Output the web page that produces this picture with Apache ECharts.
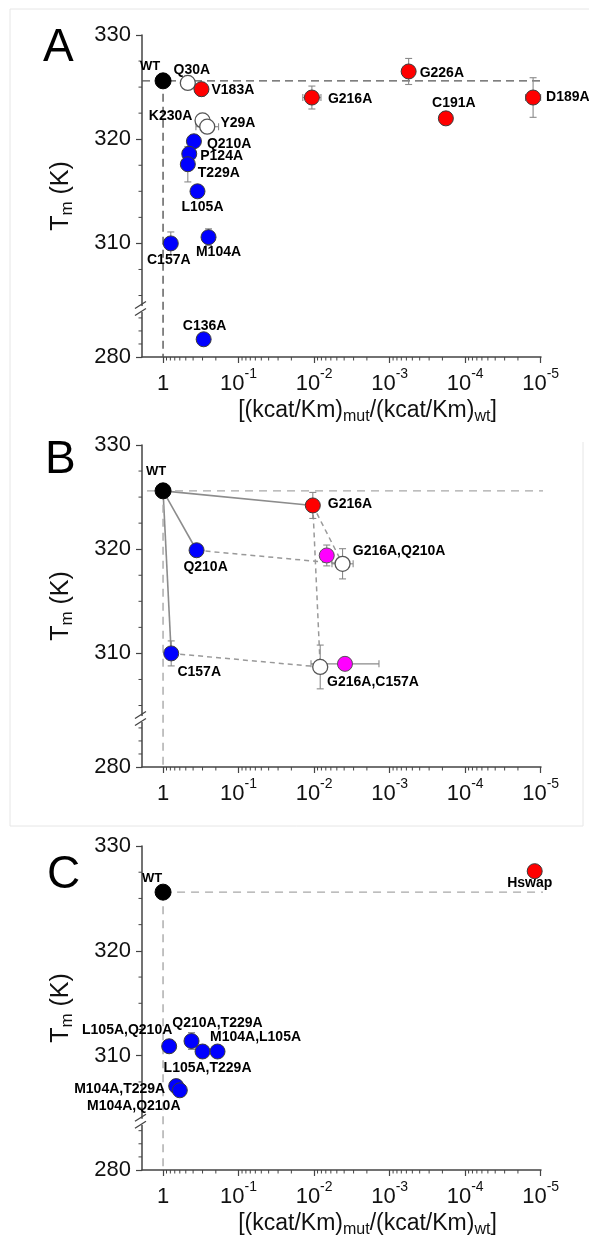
<!DOCTYPE html>
<html><head><meta charset="utf-8">
<script src="https://cdn.jsdelivr.net/npm/echarts@6.0.0/dist/echarts.min.js"></script>
<style>html,body{margin:0;padding:0;background:#fff}#c{width:589px;height:1239px}</style>
</head><body><div id="c"></div>
<script>
// ---------------- data ----------------
const xTickValues = [1, 1e-1, 1e-2, 1e-3, 1e-4, 1e-5];
const xMinorMultipliers = [9, 8, 7, 6, 5, 4, 3, 2];
const yTickValues = [280, 310, 320, 330];
const yMinorTickValues = [281.25, 282.5, 283.75, 305, 307.5, 312.5, 315, 317.5, 322.5, 325, 327.5];

// Panel A: single mutants
const aNames = ['WT','Q30A','V183A','K230A','Y29A','Q210A','P124A','T229A','L105A','C157A','M104A','C136A','G216A','G226A','C191A','D189A'];
const aRatio = [1, 0.47, 0.31, 0.30, 0.26, 0.39, 0.45, 0.47, 0.35, 0.79, 0.25, 0.29, 0.0107, 0.00056, 0.00018, 0.0000126];
const aTm    = [325.6, 325.4, 324.8, 321.8, 321.2, 319.8, 318.6, 317.6, 315.0, 310.0, 310.6, 281.7, 324.0, 326.5, 322.0, 324.0];
const aTmErr = [0.3, 0, 0.65, 0, 0.3, 0.5, 0.6, 1.7, 0, 1.1, 0.8, 0, 1.1, 1.25, 0.4, 1.9];
const aRatioErrDec = [0.05, 0, 0.05, 0, 0.15, 0, 0.08, 0, 0, 0, 0, 0, 0.12, 0.05, 0.08, 0.1];
const aKind  = ['wt','open','red','open','open','blue','blue','blue','blue','blue','blue','blue','red','red','red','red'];

// Panel B: double-mutant cycles (measured + additive prediction)
const bNames = ['WT','Q210A','G216A','C157A','G216A,Q210A','G216A,C157A','G216A+Q210A pred','G216A+C157A pred'];
const bRatio = [1, 0.36, 0.0104, 0.78, 0.0068, 0.0039, 0.0042, 0.0083];
const bTm    = [325.6, 319.9, 324.2, 310.0, 319.4, 309.0, 318.6, 308.7];
const bTmErr = [0.2, 0.4, 1.25, 1.2, 1.0, 0.3, 1.45, 2.1];
const bRatioErrDec = [0.05, 0, 0.05, 0, 0.08, 0.45, 0.14, 0.06];
const bKind  = ['wt','blue','red','blue','magenta','magenta','open','open'];
const bSolidLinks  = [['WT','G216A'],['WT','Q210A'],['WT','C157A']];
const bDashedLinks = [['Q210A','G216A+Q210A pred'],['G216A','G216A+Q210A pred'],['G216A','G216A+C157A pred'],['C157A','G216A+C157A pred']];

// Panel C: other double mutants and Hswap
const cNames = ['WT','Hswap','L105A,Q210A','Q210A,T229A','L105A,T229A','M104A,L105A','M104A,T229A','M104A,Q210A'];
const cRatio = [1, 0.000012, 0.83, 0.42, 0.30, 0.19, 0.67, 0.60];
const cTm    = [325.6, 327.6, 310.9, 311.4, 310.4, 310.4, 307.1, 306.7];
const cTmErr = [0.2, 0.4, 0.3, 0.8, 0.6, 0.3, 0.6, 0.3];
const cRatioErrDec = [0.03, 0.05, 0.08, 0, 0.05, 0, 0.05, 0];
const cKind  = ['wt','red','blue','blue','blue','blue','blue','blue'];

// ---------------- styles / layout ----------------
const FONT = 'Liberation Sans';
const xMax = 1.9, xMin = 9.9e-6, yMin = 280, yMax = 330;
const kindStyle = {
  wt:      {color:'#000000', borderColor:'#000000', borderWidth:1, opacity:1},
  red:     {color:'#ff0000', borderColor:'#3a3a3a', borderWidth:1, opacity:1},
  blue:    {color:'#0000ff', borderColor:'#3a3a3a', borderWidth:1, opacity:1},
  open:    {color:'#ffffff', borderColor:'#555555', borderWidth:1.3, opacity:1},
  magenta: {color:'#ff00ff', borderColor:'#555555', borderWidth:1, opacity:1}
};
const labelPlacement = {
  A: {'WT':['top',-13,6],'Q30A':['top',4,7],'V183A':['right',-3,1],'K230A':['left',3,-4],'Y29A':['right',0,-4],
      'Q210A':['right',0,3],'P124A':['right',-2,2],'T229A':['right',-3,9],'L105A':['bottom',5,-4],'C157A':['bottom',-2,-3],
      'M104A':['bottom',10,-5],'C136A':['top',1,7],'G216A':['right',3,2],'G226A':['right',-2,2],'C191A':['top',8,5],'D189A':['right',0,0]},
  B: {'WT':['top',-7,1],'Q210A':['bottom',9,-3],'G216A':['right',2,-1],'G216A,Q210A':['right',13,-4],
      'C157A':['bottom',28,-1],'G216A,C157A':['bottom',28,-2]},
  C: {'WT':['top',-11,6],'Hswap':['bottom',-5,-8],'L105A,Q210A':['top',-42,4],'Q210A,T229A':['top',26,2],
      'M104A,L105A':['top',38,6],'L105A,T229A':['bottom',5,-3],'M104A,T229A':['left',2,3],'M104A,Q210A':['bottom',-46,-4]}
};
const BRK = {start:284.5, end:303.8, gap:0.2};
const panels = [
  {key:'A', names:aNames, ratio:aRatio, tm:aTm, tmErr:aTmErr, rErr:aRatioErrDec, kind:aKind,
   grid:{left:142, top:35, width:399, height:322}, refColor:'#555555', refDash:[8,5],
   refStart:xMax, refEnd:8e-6, xName:true, letterTop:25, letterLeft:43},
  {key:'B', names:bNames, ratio:bRatio, tm:bTm, tmErr:bTmErr, rErr:bRatioErrDec, kind:bKind,
   grid:{left:142, top:445, width:399, height:322}, refColor:'#a8a8a8', refDash:[8,6],
   refStart:1.63, refEnd:6.3e-6, xName:false, letterTop:437, letterLeft:45},
  {key:'C', names:cNames, ratio:cRatio, tm:cTm, tmErr:cTmErr, rErr:cRatioErrDec, kind:cKind,
   grid:{left:142, top:846, width:399, height:324}, refColor:'#a8a8a8', refDash:[8,6],
   refStart:1, refEnd:6.3e-6, xName:true, letterTop:852, letterLeft:47}
];

// ---------------- build option ----------------
const grid = [], xAxis = [], yAxis = [], series = [];
const axisColor = '#444444';
function xLabelFmt(v){
  const e = Math.round(Math.log10(v));
  return e === 0 ? '{b|1}' : '{b|10}{s|' + e + '}';
}
const xMinorTicks = [];
xTickValues.slice(0, -1).forEach(d => xMinorMultipliers.forEach(m => xMinorTicks.push(d * m / 10)));

panels.forEach((p, k) => {
  grid.push(Object.assign({containLabel:false}, p.grid));
  const xi = k, yi = k;
  xAxis.push({
    gridIndex:k, type:'log', logBase:10, inverse:true, min:xMin, max:xMax, position:'bottom',
    axisLine:{show:true, lineStyle:{color:axisColor, width:1.5}},
    axisTick:{show:true, customValues:xTickValues, length:6, lineStyle:{color:axisColor, width:1.2}},
    axisLabel:{show:true, customValues:xTickValues, margin:10, formatter:xLabelFmt, color:'#111',
      rich:{b:{fontSize:22, fontFamily:FONT, color:'#111', lineHeight:28, verticalAlign:'bottom'},
            s:{fontSize:14, fontFamily:FONT, color:'#111', lineHeight:28, verticalAlign:'top'}}},
    splitLine:{show:false}, minorTick:{show:false},
    name: p.xName ? '[(kcat/Km){sub|mut}/(kcat/Km){sub|wt}]' : '',
    nameLocation:'middle', nameGap:40,
    nameTextStyle:{fontSize:23, fontFamily:FONT, color:'#111', padding:[0,0,0,52], lineHeight:28,
      rich:{sub:{fontSize:16, fontFamily:FONT, color:'#111', verticalAlign:'bottom', lineHeight:28}}}
  });
  yAxis.push({gridIndex:k, type:'value', min:yMin, max:yMax, position:'left',
    breaks:[{start:BRK.start, end:BRK.end, gap:BRK.gap}], breakArea:{show:false}, splitLine:{show:false},
    axisLine:{show:true, lineStyle:{color:axisColor, width:1.5}},
    axisTick:{show:true, customValues:yTickValues, length:6, lineStyle:{color:axisColor, width:1.2}},
    axisLabel:{show:true, customValues:yTickValues, fontSize:22, fontFamily:FONT, color:'#111', margin:11},
    name:'T{sub|m} (K)', nameLocation:'middle', nameGap:66, nameRotate:90,
    nameTextStyle:{fontSize:25, fontFamily:FONT, color:'#111', lineHeight:30,
      rich:{sub:{fontSize:17, fontFamily:FONT, color:'#111', verticalAlign:'bottom', lineHeight:30}}}
  });

  // minor ticks, placed through the axes' own scales
  const tickStyle = {stroke:axisColor, lineWidth:1};
  series.push({type:'custom', xAxisIndex:xi, yAxisIndex:yi, clip:false, silent:true, z:1,
    data:xMinorTicks.map(v => [v, yMin]),
    renderItem:function(params, api){
      const c = api.coord([api.value(0), api.value(1)]);
      return {type:'line', shape:{x1:c[0], y1:c[1], x2:c[0], y2:c[1]+3.5}, style:tickStyle};
    }});
  series.push({type:'custom', xAxisIndex:xi, yAxisIndex:yi, clip:false, silent:true, z:1,
    data:yMinorTickValues.map(v => [xMax, v]),
    renderItem:function(params, api){
      const c = api.coord([api.value(0), api.value(1)]);
      return {type:'line', shape:{x1:c[0]-3.5, y1:c[1], x2:c[0], y2:c[1]}, style:tickStyle};
    }});

  const wtIdx = p.names.indexOf('WT');
  const wtTm = p.tm[wtIdx], wtRatio = p.ratio[wtIdx];
  const refStyle = {color:p.refColor, width:1.4, type:p.refDash};
  series.push({type:'line', xAxisIndex:xi, yAxisIndex:yi, clip:false, symbol:'none', silent:true, z:1,
    lineStyle:refStyle, data:[[p.refStart, wtTm],[p.refEnd, wtTm]]});
  series.push({type:'line', xAxisIndex:xi, yAxisIndex:yi, clip:false, symbol:'none', silent:true, z:1,
    lineStyle:refStyle, data:[[wtRatio, wtTm],[wtRatio, yMin]]});

  if (p.key === 'B') {
    const pt = n => { const i = p.names.indexOf(n); return [p.ratio[i], p.tm[i]]; };
    series.push({type:'lines', coordinateSystem:'cartesian2d', xAxisIndex:xi, yAxisIndex:yi, silent:true, z:1,
      lineStyle:{color:'#8c8c8c', width:1.6, type:'solid', opacity:1},
      data:bSolidLinks.map(l => ({coords:[pt(l[0]), pt(l[1])]}))});
    series.push({type:'lines', coordinateSystem:'cartesian2d', xAxisIndex:xi, yAxisIndex:yi, silent:true, z:1,
      lineStyle:{color:'#999999', width:1.5, type:[5,4], opacity:1},
      data:bDashedLinks.map(l => ({coords:[pt(l[0]), pt(l[1])]}))});
  }

  // error bars
  series.push({type:'custom', xAxisIndex:xi, yAxisIndex:yi, clip:false, silent:true, z:2,
    encode:{x:0, y:1},
    data:p.ratio.map((r,i) => [r, p.tm[i], p.tmErr[i], p.rErr[i]]),
    renderItem:function(params, api){
      const x = api.value(0), y = api.value(1), ey = api.value(2), ex = api.value(3);
      const st = {stroke:'#8a8a8a', lineWidth:1.1};
      const ch = [], cap = 3.5;
      if (ey > 0) {
        const a = api.coord([x, y+ey]), b = api.coord([x, y-ey]);
        ch.push({type:'line', shape:{x1:a[0],y1:a[1],x2:b[0],y2:b[1]}, style:st});
        ch.push({type:'line', shape:{x1:a[0]-cap,y1:a[1],x2:a[0]+cap,y2:a[1]}, style:st});
        ch.push({type:'line', shape:{x1:b[0]-cap,y1:b[1],x2:b[0]+cap,y2:b[1]}, style:st});
      }
      if (ex > 0) {
        const f = Math.pow(10, ex);
        const a = api.coord([x*f, y]), b = api.coord([x/f, y]);
        ch.push({type:'line', shape:{x1:a[0],y1:a[1],x2:b[0],y2:b[1]}, style:st});
        ch.push({type:'line', shape:{x1:a[0],y1:a[1]-cap,x2:a[0],y2:a[1]+cap}, style:st});
        ch.push({type:'line', shape:{x1:b[0],y1:b[1]-cap,x2:b[0],y2:b[1]+cap}, style:st});
      }
      return {type:'group', children:ch};
    }});

  // points
  const lp = labelPlacement[p.key];
  series.push({type:'scatter', xAxisIndex:xi, yAxisIndex:yi, z:3, clip:false,
    data:p.names.map((n,i) => {
      const pl = lp[n];
      return {name:n, value:[p.ratio[i], p.tm[i]],
        symbolSize: p.kind[i] === 'wt' ? 16 : 15,
        itemStyle: kindStyle[p.kind[i]],
        label: pl ? {show:true, position:pl[0], offset:[pl[1], pl[2]], distance:5, formatter:n,
          fontSize: n === 'WT' ? 13 : 14, fontWeight:'bold', fontFamily:FONT, color:'#000'} : {show:false}};
    })});
});

const graphic = [
  {type:'line', shape:{x1:10,y1:9,x2:589,y2:9}, style:{stroke:'#e6e6e6', lineWidth:1}, silent:true},
  {type:'line', shape:{x1:10,y1:9,x2:10,y2:826}, style:{stroke:'#e6e6e6', lineWidth:1}, silent:true},
  {type:'line', shape:{x1:583,y1:442,x2:583,y2:826}, style:{stroke:'#e6e6e6', lineWidth:1}, silent:true},
  {type:'line', shape:{x1:10,y1:826,x2:583,y2:826}, style:{stroke:'#e6e6e6', lineWidth:1}, silent:true}
];
panels.forEach(p => {
  graphic.push({type:'text', left:p.letterLeft, top:p.letterTop, silent:true,
    style:{text:p.key, fontSize:46, fontFamily:FONT, fill:'#000'}});
});

const chart = echarts.init(document.getElementById('c'), null, {renderer:'canvas'});
chart.setOption({animation:false, backgroundColor:'#ffffff', grid, xAxis, yAxis, series, graphic});

// axis-break marks "//" placed through the axis scale
const brkG = graphic.slice();
panels.forEach((p, k) => {
  const mid = (BRK.start + BRK.end) / 2;
  const py = chart.convertToPixel({yAxisIndex:k}, mid);
  const px = p.grid.left;
  brkG.push({type:'rect', shape:{x:px-3, y:py-3, width:6, height:6}, style:{fill:'#fff'}, silent:true, z:100});
  brkG.push({type:'line', shape:{x1:px-7, y1:py-0.5, x2:px+4, y2:py-7.5}, style:{stroke:axisColor, lineWidth:1.3}, silent:true, z:101});
  brkG.push({type:'line', shape:{x1:px-7, y1:py+6.5, x2:px+4, y2:py-0.5}, style:{stroke:axisColor, lineWidth:1.3}, silent:true, z:101});
});
chart.setOption({graphic:brkG});
</script>
</body></html>
